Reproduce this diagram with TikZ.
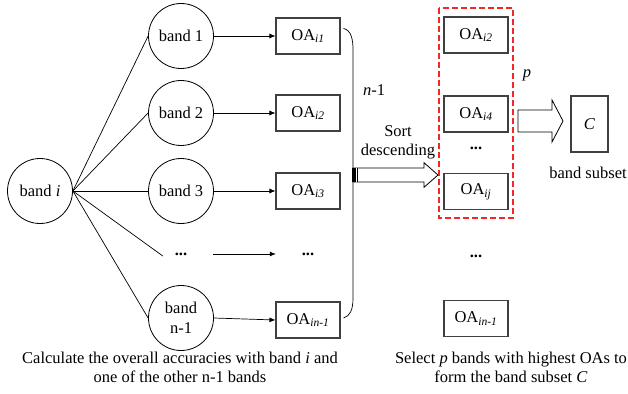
\documentclass[tikz,border=0pt]{standalone}
\usepackage{fontspec}
\setmainfont{Liberation Serif}
\usetikzlibrary{arrows.meta}
\definecolor{boxgray}{RGB}{64,64,64}
\definecolor{dashred}{RGB}{240,40,40}
\begin{document}
\begin{tikzpicture}[x=1pt,y=-1pt,
  every node/.style={font=\fontsize{16.5}{19}\selectfont},
  bandc/.style={circle,draw,line width=0.8pt,minimum size=65pt,inner sep=0pt,align=center},
  oabox/.style={draw=boxgray,line width=1.1pt,minimum width=64pt,minimum height=36pt,inner sep=0pt},
  link/.style={line width=0.7pt},
  arr/.style={line width=0.7pt,-{Latex[length=6pt,width=5pt]}},
  dotsnode/.style={font=\fontsize{16.5}{19}\selectfont\bfseries,inner sep=0pt},
  hollow/.style={draw,line width=0.8pt,fill=white},
]
\useasboundingbox (0,0) rectangle (628,393);
% left column
\node[bandc] (bi) at (40,191) {band \textit{i}};
\node[bandc] (b1) at (181,36) {band 1};
\node[bandc] (b2) at (181,113) {band 2};
\node[bandc] (b3) at (181,191) {band 3};
\node[dotsnode,minimum width=64pt] (bd) at (181,254) {...};
\node[bandc,font=\fontsize{16.5}{20}\selectfont] (bn) at (181,318) {band\\n-1};
% OA column
\node[oabox] (oa1) at (308,36) {OA\textsubscript{\textit{i1}}};
\node[oabox] (oa2) at (308,113) {OA\textsubscript{\textit{i2}}};
\node[oabox] (oa3) at (308,191) {OA\textsubscript{\textit{i3}}};
\node[dotsnode,minimum width=64pt] (oad) at (308,254) {...};
\node[oabox] (oan) at (308,320) {OA\textsubscript{\textit{in-1}}};
% links
\foreach \t in {b1,b2,b3,bn} \draw[link] (bi.east) -- (\t.west);
\draw[link] (bi.east) -- ([shift={(14,2)}]bd.west);
\foreach \s/\t in {b1/oa1,b2/oa2,b3/oa3,bn/oan} \draw[arr] (\s.east) -- (\t.west);
\draw[arr] (bd.east) -- (oad.west);
% bracket
\draw[link] ([shift={(3,11)}]oa1.north east) .. controls +(8,2) and (353,40) .. (353,50)
  -- (353,298) .. controls (353,310) and (350,316) .. ([shift={(3,-2)}]oan.east);
\node (n1) at (374,90) {\textit{n}-1};
% sort arrow
\node[align=center,font=\fontsize{16.5}{19}\selectfont] (sort) at (398,142) {Sort\\descending};
\draw[hollow] (353,168) -- (424,168) -- (424,162.7) -- (438,175) -- (424,187.3) -- (424,182) -- (353,182) -- cycle;
\fill (352,168) rectangle (358,182);
\draw[white,line width=0.9pt] (356,168) -- (356,182);
% right column
\draw[draw=dashred,line width=1.2pt,dash pattern=on 6pt off 3pt] (439,8) rectangle (513,218);
\node[oabox] (r2) at (476,35) {OA\textsubscript{\textit{i2}}};
\node[oabox] (r4) at (476,114) {OA\textsubscript{\textit{i4}}};
\node[dotsnode] (rd1) at (476,148) {...};
\node[oabox] (rj) at (476,191.5) {OA\textsubscript{\textit{ij}}};
\node[dotsnode] (rd2) at (476,256) {...};
\node[oabox] (rn) at (476,318.5) {OA\textsubscript{\textit{in-1}}};
\node (p) at (527,75) {\textit{p}};
% p arrow and C
\draw[hollow] (518,110) -- (552,110) -- (552,100) -- (563,121) -- (552,142) -- (552,132) -- (518,132) -- cycle;
\node[draw=boxgray,line width=1.1pt,minimum width=37pt,minimum height=56pt,inner sep=0pt] (C) at (589.5,124) {\textit{C}};
\node (bs) at (588,173) {band subset};
% captions
\node[align=center,font=\fontsize{16.5}{19}\selectfont] (cap1) at (180,367) {Calculate the overall accuracies with band \textit{i} and\\one of the other n-1 bands};
\node[align=center,font=\fontsize{16.5}{19}\selectfont] (cap2) at (511,367) {Select \textit{p} bands with highest OAs to\\form the band subset \textit{C}};
\end{tikzpicture}
\end{document}
